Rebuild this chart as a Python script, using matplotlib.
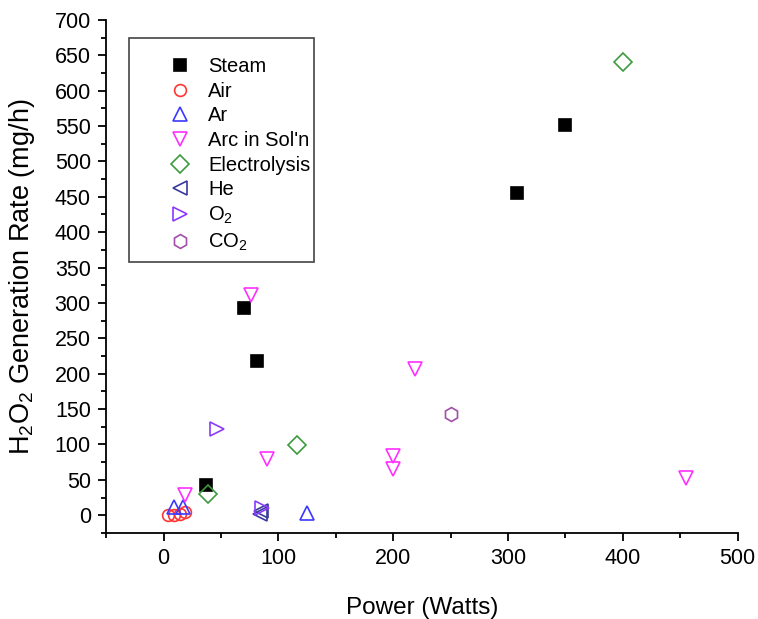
import matplotlib
matplotlib.use("Agg")
import matplotlib.pyplot as plt
from matplotlib.patches import Rectangle
from matplotlib.ticker import MultipleLocator

plt.rcParams["font.family"] = ["Liberation Sans", "DejaVu Sans"]
plt.rcParams["mathtext.fontset"] = "custom"
plt.rcParams["mathtext.rm"] = "Liberation Sans"

# data (Power W, H2O2 mg/h)
steam_x = [37, 70, 81, 308, 350]
steam_y = [43, 293, 218, 455, 551]
air_x = [4, 9, 14, 19]
air_y = [0, 0, 2, 4]
ar_x = [9, 17, 125]
ar_y = [11, 11, 3]
arc_x = [19, 76, 90, 200, 200, 219, 455]
arc_y = [28, 311, 79, 84, 65, 207, 53]
elec_x = [39, 116, 400]
elec_y = [30, 99, 640]
he_x = [84, 85]
he_y = [2, 6]
o2_x = [47, 86]
o2_y = [122, 10]
co2_x = [250]
co2_y = [143]

series = [
    ("Steam", steam_x, steam_y, "s", "black", True, 8.5),
    ("Air", air_x, air_y, "o", "#ff3535", False, 8.5),
    ("Ar", ar_x, ar_y, "^", "#3a3aff", False, 9.5),
    ("Arc in Sol'n", arc_x, arc_y, "v", "#ff30ff", False, 9.5),
    ("Electrolysis", elec_x, elec_y, "D", "#3d9a3d", False, 9),
    ("He", he_x, he_y, "<", "#3a3a9a", False, 9.5),
    ("O$_2$", o2_x, o2_y, ">", "#8a3aff", False, 9.5),
    ("CO$_2$", co2_x, co2_y, "h", "#a050a8", False, 10),
]

fig = plt.figure(figsize=(7.58, 6.19), dpi=100)
ax = fig.add_axes([0.140, 0.139, 0.833, 0.829])

for label, xs, ys, m, c, filled, size in series:
    ax.plot(xs, ys, linestyle="none", marker=m, markersize=size,
            markerfacecolor=c if filled else "none", markeredgecolor=c,
            markeredgewidth=1.2, label=label)

ax.set_xlim(-50, 500)
ax.set_ylim(-25, 700)
ax.xaxis.set_major_locator(MultipleLocator(100))
ax.xaxis.set_minor_locator(MultipleLocator(50))
ax.yaxis.set_major_locator(MultipleLocator(50))
ax.yaxis.set_minor_locator(MultipleLocator(25))
ax.tick_params(which="major", direction="out", length=6, width=1.3,
               labelsize=15.5, pad=5)
ax.tick_params(which="minor", direction="out", length=3.5, width=1.3)

ax.spines["top"].set_visible(False)
ax.spines["right"].set_visible(False)
ax.spines["left"].set_linewidth(1.3)
ax.spines["bottom"].set_linewidth(1.3)

ax.set_xlabel("Power (Watts)", fontsize=17.5, labelpad=20)
ax.set_ylabel("H$_2$O$_2$ Generation Rate (mg/h)", fontsize=19.5)
ax.yaxis.set_label_coords(-0.11, 0.5)

# legend box drawn on its own so the long labels can run up to its edge
ax.add_patch(Rectangle((0.036, 0.528), 0.293, 0.437, transform=ax.transAxes,
                       facecolor="white", edgecolor="#444444", linewidth=1.2,
                       zorder=4))
leg = ax.legend(loc="upper left", bbox_to_anchor=(0.069, 0.947), fontsize=14.5,
                frameon=False, borderpad=0, labelspacing=0.28,
                handlelength=2, handletextpad=0.4)
leg.set_zorder(5)

fig.savefig("out.png", dpi=100)
